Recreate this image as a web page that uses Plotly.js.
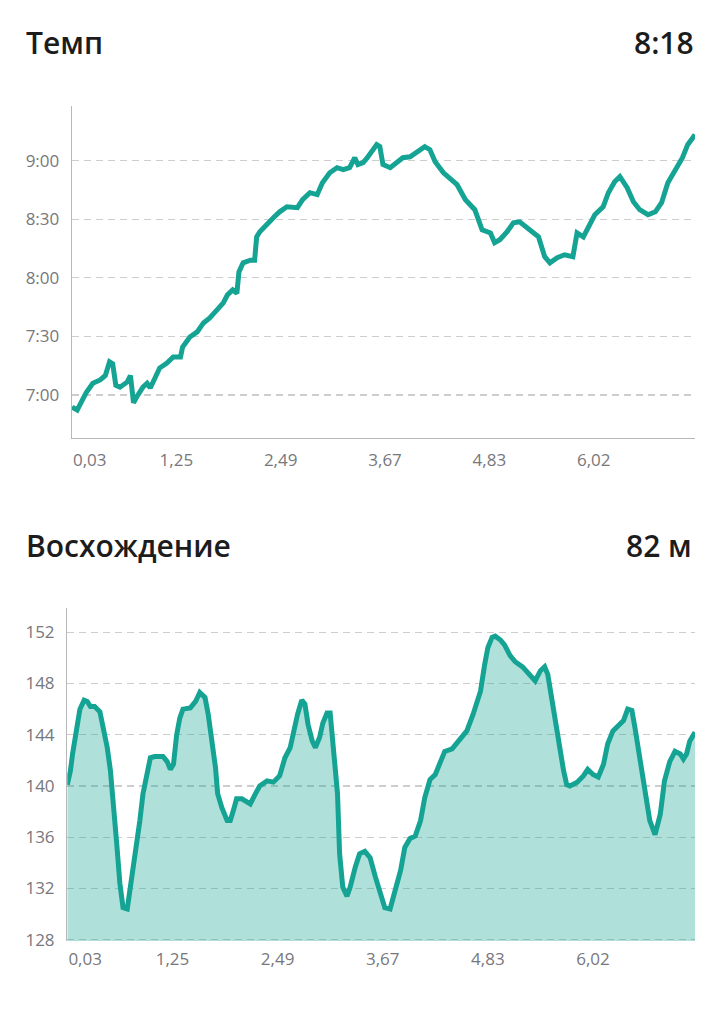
<!DOCTYPE html>
<html>
<head>
<meta charset="utf-8">
<script src="https://cdn.plot.ly/plotly-3.0.1.min.js"></script>
<style>
  html, body { margin: 0; padding: 0; background: #fff; }
  #chart { width: 719px; height: 1024px; }
</style>
</head>
<body>
<div id="chart"></div>
<script>
// pace, seconds per km, by sample index
const paceIdx = [0,5,11,14,20,27,32,36,39,42,46,53,56,59,62,68,72,75,80,84,91,97,104,106,113,120,126,132,139,145,149,154,158,160,164,171,175,177,180,187,193,199,206,216,221,228,235,240,247,254,260,266,271,274,279,283,288,292,295,298,305,312,317,324,331,338,343,348,356,362,369,377,386,393,401,405,410,417,423,429,436,442,447,453,458,465,472,480,484,490,495,501,509,514,520,525,532,538,544,552,559,565,571,578,585,590,597];
const paceSec = [413.8,412.3,418.5,421.5,426,427.7,430,437,436,425,424,426.7,430,416,419,424,426,423.6,429.2,433.8,436.4,439.5,439.5,444.6,449.7,452.3,456.9,459.5,463.6,467.2,471.3,473.8,472,483,487.7,489,489,501,503.6,508,510.8,513.8,516.4,515.9,520,523.6,522.6,528.7,533.8,536.4,535.4,536.4,541.5,538,539,541.5,545.6,548.2,547.2,538,536.4,539.5,541.5,542,544.6,547.2,545.6,539.5,533.8,531.3,527.7,520,514.9,504.6,503,498,499.5,503.6,508.2,508.7,506,503,501,490.8,487.7,490.3,491.8,490.8,503,501,506,512.3,516.4,523.6,529.2,531.8,526.2,519,514.9,512.3,513.8,518.5,528.7,535.4,541.5,548.2,553.3];

// elevation, metres, by sample index
const elevIdx = [0,3,5,9,12,16,19,22,26,31,34,38,41,44,47,50,53,57,60,63,66,69,72,76,79,83,91,95,98,101,104,107,110,117,122,126,131,134,138,141,143,147,152,155,158,161,166,174,179,183,190,196,202,207,212,215,219,223,226,229,233,236,240,243,247,250,253,257,259,262,266,269,274,278,283,288,293,298,302,307,312,317,321,326,331,336,340,345,350,355,359,366,372,380,386,393,397,400,404,407,412,416,421,426,433,438,445,450,454,457,461,466,469,472,475,478,485,491,495,500,505,510,514,519,524,529,533,537,540,545,549,554,559,564,568,573,578,583,586,589,592,596,597];
const elevM = [140.1,141.2,142.5,144.6,146,146.7,146.6,146.2,146.2,145.8,144.6,143,141.2,138.8,135.5,132.4,130.5,130.4,132.1,133.7,135.2,137.3,139.4,141.2,142.2,142.3,142.3,141.9,141.3,141.7,144,145.3,146,146.1,146.6,147.3,146.9,145.6,143.5,141.4,139.4,138.3,137.3,137.3,138.1,139,139,138.6,139.4,140,140.4,140.3,140.8,142.2,143,144.3,145.6,146.7,146.4,144.8,143.5,143,143.8,144.9,145.7,145.7,143.3,139.4,134.7,132.1,131.4,132.1,133.7,134.7,134.9,134.4,132.9,131.6,130.5,130.4,132.1,133.4,135.2,135.9,136.1,137.3,139.1,140.5,140.9,141.8,142.7,142.9,143.5,144.3,145.6,147.4,149.5,150.8,151.6,151.7,151.4,151,150.2,149.7,149.3,148.8,148.2,149,149.3,148.7,146.6,144.3,143,141.2,140.1,140,140.3,140.8,141.3,140.9,140.7,141.7,143.3,144.3,144.7,145.1,146,145.9,144.5,141.9,139.4,137.3,136.2,137.8,140.4,141.9,142.7,142.5,142.1,142.5,143.5,144,144.2];

// distance labels under the charts (km)
const distTickIdx = [17,100,200,300,400,500];   // first label is pushed in so it is not clipped
const distTickText = ['0,03','1,25','2,49','3,67','4,83','6,02'];

const paceTicks = [420,450,480,510,540];
const elevTicks = [128,132,136,140,144,148,152];

const paceTitle = 'Темп', paceAvg = '8:18';
const elevTitle = 'Восхождение', elevGain = '82 м';

const teal = '#15a394';
const fmtPace = s => Math.floor(s/60) + ':' + String(Math.round(s%60)).padStart(2,'0');

const tickFont = { family: 'Open Sans, sans-serif', size: 17, color: '#77777c' };
const headFont = { family: 'Open Sans, sans-serif', size: 30, color: '#1c1c1c', weight: 600 };

const xBase = {
  range: [0, 597], showgrid: false, zeroline: false,
  tickmode: 'array', tickvals: distTickIdx, ticktext: distTickText,
  ticks: '', tickfont: tickFont, ticklabelstandoff: 6, fixedrange: true
};
const yBase = {
  zeroline: false, showline: true, linecolor: '#b8b8b8', linewidth: 1.3,
  showgrid: true, gridcolor: '#cdcdcd', gridwidth: 1.2, griddash: '7px,5px',
  ticks: '', tickfont: tickFont, ticklabelstandoff: 8, tickmode: 'array', fixedrange: true
};

const traces = [
  { x: paceIdx, y: paceSec, xaxis: 'x', yaxis: 'y', type: 'scatter', mode: 'lines',
    line: { color: teal, width: 5 }, hoverinfo: 'skip' },
  { x: elevIdx, y: elevM, xaxis: 'x2', yaxis: 'y2', type: 'scatter', mode: 'lines',
    fill: 'tozeroy', fillcolor: 'rgba(21,163,148,0.34)',
    line: { color: teal, width: 5 }, hoverinfo: 'skip' }
];

const layout = {
  width: 719, height: 1024,
  margin: { l: 0, r: 0, t: 0, b: 0 },
  paper_bgcolor: '#fff', plot_bgcolor: '#fff',
  showlegend: false,
  xaxis: Object.assign({}, xBase, {
    domain: [0.1001, 0.9666], anchor: 'y',
    showline: true, linecolor: '#b8b8b8', linewidth: 1.3
  }),
  yaxis: Object.assign({}, yBase, {
    domain: [0.5723, 0.8965], anchor: 'x', range: [398, 568],
    tickvals: paceTicks, ticktext: paceTicks.map(fmtPace)
  }),
  xaxis2: Object.assign({}, xBase, {
    domain: [0.0936, 0.9666], anchor: 'y2', showline: false
  }),
  yaxis2: Object.assign({}, yBase, {
    domain: [0.0811, 0.4063], anchor: 'x2', range: [127.9, 153.9],
    tickvals: elevTicks, ticktext: elevTicks.map(String)
  }),
  annotations: [
    { text: paceTitle, xref: 'paper', yref: 'paper', x: 24/719, y: 1 - 42/1024,
      xanchor: 'left', yanchor: 'middle', showarrow: false, font: headFont },
    { text: paceAvg, xref: 'paper', yref: 'paper', x: 696/719, y: 1 - 42/1024,
      xanchor: 'right', yanchor: 'middle', showarrow: false, font: headFont },
    { text: elevTitle, xref: 'paper', yref: 'paper', x: 24/719, y: 1 - 545/1024,
      xanchor: 'left', yanchor: 'middle', showarrow: false, font: headFont },
    { text: elevGain, xref: 'paper', yref: 'paper', x: 694/719, y: 1 - 545/1024,
      xanchor: 'right', yanchor: 'middle', showarrow: false, font: headFont }
  ]
};

Plotly.newPlot('chart', traces, layout, { staticPlot: true, displayModeBar: false });
</script>
</body>
</html>
